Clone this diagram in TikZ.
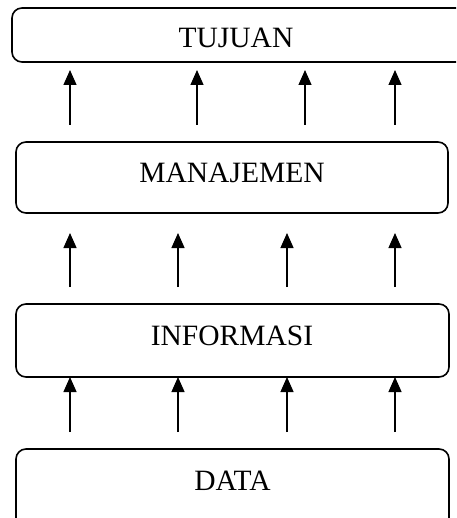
\documentclass[tikz,border=0pt]{standalone}
\usepackage{fontspec}
\setmainfont{Liberation Serif}
\usetikzlibrary{arrows.meta}
\begin{document}
\begin{tikzpicture}[x=1pt,y=-1pt,
  box/.style={draw, line width=1.6pt, rectangle, rounded corners=10pt,
              inner sep=0pt, outer sep=0pt},
  lbl/.style={anchor=base, inner sep=0pt, font=\fontsize{29.5}{35}\selectfont},
  arr/.style={line width=1.3pt, -{Triangle[length=15pt,width=13pt]}}]
\useasboundingbox (0,0) rectangle (456,518);
\clip (0,0) rectangle (456,518);

% level boxes
\node[box, minimum width=458, minimum height=54] (tujuan)    at (241,35)    {};
\node[box, minimum width=432, minimum height=71] (manajemen) at (232,177.5) {};
\node[box, minimum width=433, minimum height=73] (informasi) at (232.5,340.5) {};
\node[box, minimum width=433, minimum height=82] (data)      at (232.5,490) {};

% level labels
\node[lbl] (ttujuan)    at (236,48)    {TUJUAN};
\node[lbl] (tmanajemen) at (232,183)   {MANAJEMEN};
\node[lbl] (tinformasi) at (232,345)   {INFORMASI};
\node[lbl] (tdata)      at (232.5,490) {DATA};

% arrow columns
\coordinate (a1) at (70,0);
\coordinate (a2) at (197,0);
\coordinate (a3) at (305,0);
\coordinate (a4) at (395,0);
\coordinate (b1) at (70,0);
\coordinate (b2) at (178,0);
\coordinate (b3) at (287,0);
\coordinate (b4) at (395,0);

% manajemen -> tujuan
\foreach \c in {a1,a2,a3,a4}
  \draw[arr, shorten <=17pt, shorten >=8pt]
    (manajemen.north -| \c) -- (tujuan.south -| \c);
% informasi -> manajemen
\foreach \c in {b1,b2,b3,b4}
  \draw[arr, shorten <=17pt, shorten >=20pt]
    (informasi.north -| \c) -- (manajemen.south -| \c);
% data -> informasi
\foreach \c in {b1,b2,b3,b4}
  \draw[arr, shorten <=17pt]
    (data.north -| \c) -- (informasi.south -| \c);
\end{tikzpicture}
\end{document}
